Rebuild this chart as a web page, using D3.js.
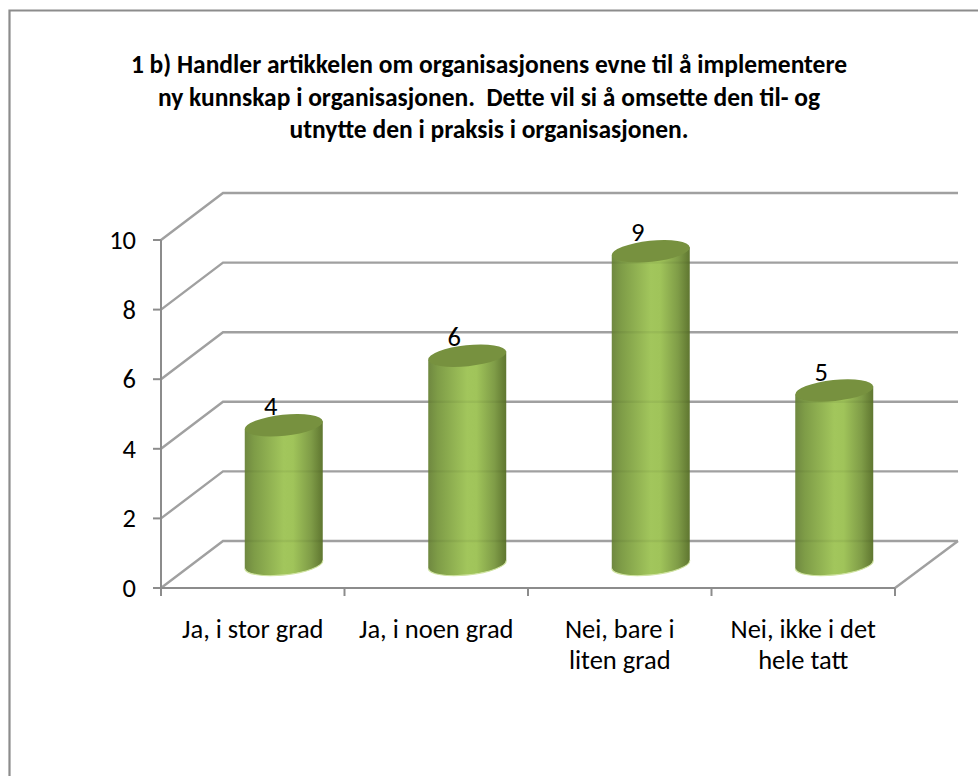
<!DOCTYPE html>
<html><head><meta charset="utf-8">
<style>html,body{margin:0;padding:0;background:#fff}svg{display:block}</style>
<script src="https://cdn.jsdelivr.net/npm/d3@7/dist/d3.min.js"></script>
</head><body><div id="c"></div>
<script>
const titleLines = ["1 b) Handler artikkelen om organisasjonens evne til å implementere","ny kunnskap i organisasjonen.  Dette vil si å omsette den til- og","utnytte den i praksis i organisasjonen."];
const categories = ["Ja, i stor grad","Ja, i noen grad","Nei, bare i liten grad","Nei, ikke i det hele tatt"];
const categoryLines = [["Ja, i stor grad"],["Ja, i noen grad"],["Nei, bare i","liten grad"],["Nei, ikke i det","hele tatt"]];
const values = [4,6,9,5];
const yTicks = [0,2,4,6,8,10];

const font = "Carlito, Calibri, 'Open Sans', 'Noto Sans', sans-serif";
const W=978,H=776, depthX=62, depthY=-47;
const svg=d3.select("#c").append("svg").attr("width",W).attr("height",H);
svg.append("path").attr("d","M9.5,776 L9.5,10.5 L978,10.5").attr("fill","none").attr("stroke","#8c8c8c").attr("stroke-width",2.2);

const x=d3.scaleBand().domain(categories).range([161,895]);
const y=d3.scaleLinear().domain([0,10]).range([588,240]);

const defs=svg.append("defs");
const g=defs.append("linearGradient").attr("id","cyl");
[[0,"#6f8840"],[.12,"#7e9c47"],[.5,"#a2c65c"],[.62,"#a0c45a"],[.85,"#7f9c47"],[1,"#5f7630"]].forEach(s=>g.append("stop").attr("offset",s[0]).attr("stop-color",s[1]));

const grid="#a0a0a0";
const gl=svg.append("g").attr("fill","none").attr("stroke",grid).attr("stroke-width",2.4);
yTicks.forEach(t=>{
  gl.append("path").attr("d",d3.line()([[161,y(t)],[161+depthX,y(t)+depthY],[958,y(t)+depthY]]));
});
gl.append("path").attr("d",d3.line()([[895,y(0)],[958,y(0)+depthY]]));

const rx=x.bandwidth()*0.2125, ry=10.5, angle=-6;
const a=-angle*Math.PI/180, R=rx/Math.cos(a), tilt=rx*Math.tan(a);
const bars=svg.append("g").selectAll("g").data(categories).join("g");
bars.each(function(c,i){
  const s=d3.select(this), cx=x(c)+x.bandwidth()/2+depthX/2, yt=y(values[i])+depthY/2, yb=y(0)+depthY/2;
  const arc=`M${cx-rx},${yb+tilt} A${R},${ry} ${angle} 0 0 ${cx+rx},${yb-tilt}`;
  s.append("path").attr("d",`M${cx-rx},${yt+tilt} L${cx-rx},${yb+tilt} A${R},${ry} ${angle} 0 0 ${cx+rx},${yb-tilt} L${cx+rx},${yt-tilt} Z`).attr("fill","url(#cyl)");
  s.append("path").attr("d",arc).attr("fill","none").attr("stroke","#cfe3a0").attr("stroke-width",1.2);
  yTicks.filter(t=>t<values[i]).forEach(t=>s.append("line").attr("x1",cx-rx).attr("x2",cx+rx).attr("y1",y(t)+depthY).attr("y2",y(t)+depthY).attr("stroke","#000").attr("stroke-opacity",.05).attr("stroke-width",2.4));
  s.append("ellipse").attr("cx",cx).attr("cy",yt).attr("rx",R).attr("ry",ry).attr("transform",`rotate(${angle} ${cx} ${yt})`).attr("fill","#77913f");
  s.append("text").attr("x",cx-13).attr("y",yt-10).attr("text-anchor","middle").attr("font-family",font).attr("font-size",26.5).attr("fill","#000").text(values[i]);
});

const ax=svg.append("g").attr("stroke","#8c8c8c").attr("stroke-width",2);
ax.append("line").attr("x1",161).attr("x2",161).attr("y1",y(10)).attr("y2",y(0)+8);
ax.append("line").attr("x1",153).attr("x2",895).attr("y1",y(0)).attr("y2",y(0));
yTicks.forEach(t=>ax.append("line").attr("x1",153).attr("x2",161).attr("y1",y(t)).attr("y2",y(t)));
categories.forEach(c=>ax.append("line").attr("x1",x(c)+x.bandwidth()).attr("x2",x(c)+x.bandwidth()).attr("y1",y(0)).attr("y2",y(0)+8));

svg.append("g").selectAll("text").data(yTicks).join("text").attr("x",136).attr("y",d=>y(d)+9).attr("text-anchor","end").attr("font-family",font).attr("font-size",26.5).attr("fill","#000").text(d=>d);

categories.forEach((c,i)=>{
  categoryLines[i].forEach((l,j)=>svg.append("text").attr("x",x(c)+x.bandwidth()/2).attr("y",638+j*31).attr("text-anchor","middle").attr("font-family",font).attr("font-size",26.5).attr("fill","#000").text(l));
});
titleLines.forEach((l,j)=>svg.append("text").attr("x",489).attr("y",73+j*32.5).attr("text-anchor","middle").style("white-space","pre").attr("font-family",font).attr("font-weight","bold").attr("font-size",25.5).attr("fill","#000").text(l));
</script></body></html>
